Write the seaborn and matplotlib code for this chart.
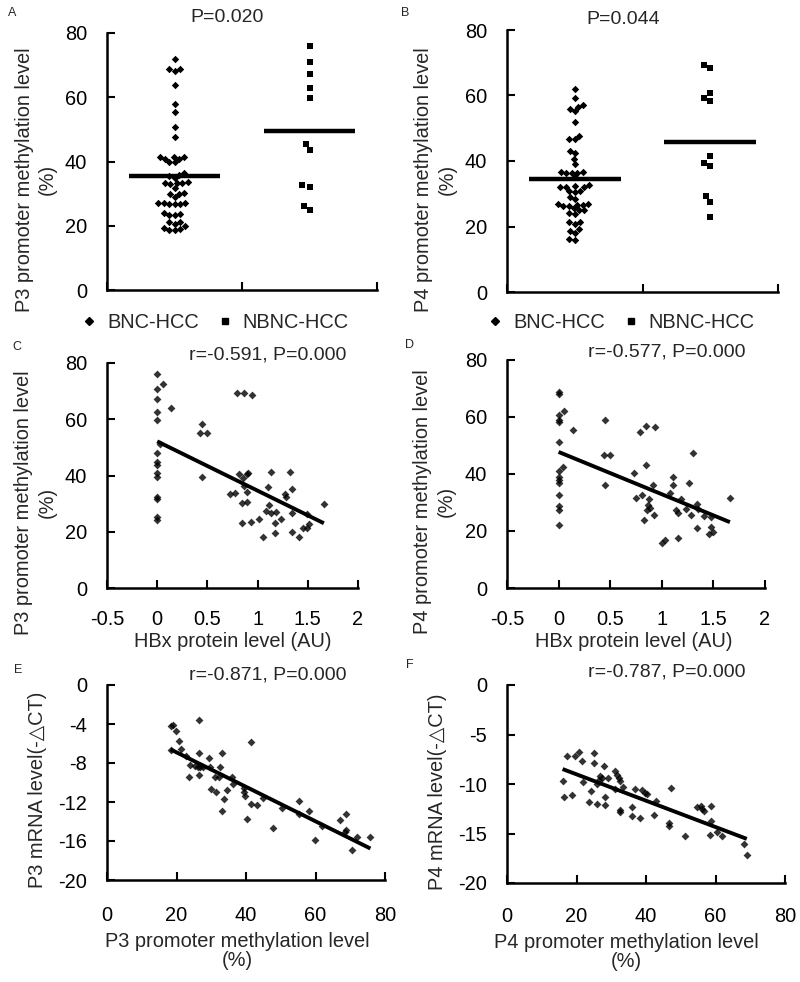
import matplotlib
matplotlib.use("Agg")
import matplotlib.pyplot as plt
import seaborn as sns
import pandas as pd
from matplotlib.lines import Line2D

# ---------------- data ----------------
groups = ["BNC-HCC", "NBNC-HCC"]

A_bnc = [72.0, 68.8, 68.3, 68.8, 63.8, 57.9, 55.3, 50.6, 47.7, 40.9, 41.4, 41.4,
         41.4, 40.7, 39.7, 39.7, 36.3, 35.9, 35.4, 34.9, 33.3, 33.6, 32.9, 33.3,
         33.3, 31.8, 30.2, 29.8, 30.0, 28.9, 26.9, 27.2, 27.2, 26.9, 27.2, 26.9,
         23.5, 24.1, 23.2, 23.8, 21.1, 20.6, 21.1, 19.9, 18.8, 19.0, 18.6, 19.2]
A_nbnc = [76.0, 70.9, 67.3, 62.8, 59.9, 45.4, 43.5, 32.6, 32.1, 26.3, 24.8]
A_means = [35.4, 49.4]

B_bnc = [61.9, 59.1, 56.6, 55.9, 57.1, 55.3, 51.8, 47.6, 46.7, 46.7, 42.5, 43.1,
         40.6, 39.0, 36.4, 36.7, 36.4, 36.7, 36.4, 35.0, 32.1, 32.4, 32.1, 32.1,
         32.6, 30.9, 30.6, 30.9, 29.1, 28.3, 27.0, 26.7, 27.0, 26.7, 26.3, 25.0,
         25.5, 25.0, 23.9, 26.3, 24.2, 21.4, 20.9, 21.4, 18.0, 18.7, 19.1, 16.3, 16.0]
B_nbnc = [69.3, 68.3, 59.3, 60.7, 58.4, 41.5, 39.3, 38.4, 29.3, 27.5, 22.8]
B_means = [34.5, 45.8]

C_x = [0, 0, 0, 0, 0, 0, 0, 0, 0, 0, 0, 0, 0, 0,
       0.056, 0.14, 0.03, 0.45, 0.43, 0.50, 0.45, 0.79, 0.865, 0.944, 0.73, 0.77,
       0.81, 0.89, 0.90, 0.855, 0.86, 0.89, 0.84, 0.89, 0.84, 0.93, 1.01, 1.05,
       1.10, 1.13, 1.11, 1.08, 1.13, 1.18, 1.17, 1.17, 1.23, 1.27, 1.28, 1.32,
       1.34, 1.34, 1.34, 1.41, 1.45, 1.49, 1.51, 1.49, 1.66]
C_y = [76.0, 70.8, 67.3, 62.6, 59.9, 47.9, 44.8, 43.6, 41.0, 39.5, 32.3, 31.7, 25.3, 24.2,
       72.5, 63.9, 51.1, 58.4, 55.2, 55.2, 39.6, 69.3, 69.3, 68.7, 33.5, 33.9,
       40.6, 40.6, 41.0, 39.2, 36.3, 34.1, 30.1, 30.7, 23.0, 23.6, 24.4, 18.3,
       36.0, 41.2, 29.5, 27.4, 26.8, 27.1, 23.0, 19.4, 24.4, 33.3, 32.5, 41.2,
       35.1, 26.8, 19.9, 18.3, 21.4, 21.2, 22.8, 26.4, 29.7]

D_x = [0, 0, 0, 0, 0, 0, 0, 0, 0, 0, 0, 0, 0, 0,
       0.054, 0.04, 0.137, 0.45, 0.44, 0.50, 0.45, 0.73, 0.75, 0.81, 0.79, 0.85,
       0.93, 0.85, 0.91, 0.88, 0.87, 0.89, 0.86, 0.92, 0.83, 1.0, 1.035, 1.08,
       1.11, 1.11, 1.14, 1.16, 1.16, 1.19, 1.23, 1.26, 1.28, 1.30, 1.34, 1.35,
       1.34, 1.41, 1.46, 1.50, 1.48, 1.48, 1.66]
D_y = [68.7, 68.1, 60.8, 59.0, 58.3, 51.3, 41.2, 39.0, 38.0, 36.9, 32.8, 28.7, 27.3, 22.1,
       62.0, 42.4, 55.3, 59.0, 46.6, 46.6, 36.0, 40.5, 31.7, 32.6, 54.8, 57.0,
       56.4, 43.1, 36.0, 31.3, 29.0, 27.9, 27.2, 25.6, 23.8, 15.9, 16.7, 33.4,
       39.0, 36.0, 27.3, 26.2, 17.7, 31.4, 27.6, 36.9, 25.6, 47.2, 29.3, 27.6,
       21.2, 25.2, 18.8, 19.6, 21.5, 24.9, 31.7]

E_x = [18.3, 19.0, 19.8, 18.3, 20.6, 21.4, 22.6, 23.6, 24.0, 25.2, 26.2, 26.4,
       26.4, 26.4, 26.7, 27.6, 29.4, 29.6, 29.9, 31.0, 31.5, 32.2, 32.4, 33.2,
       33.6, 33.2, 34.4, 36.1, 36.3, 39.3, 39.6, 39.4, 41.4, 41.3, 40.4, 43.3,
       44.9, 47.8, 50.4, 55.2, 55.2, 58.1, 59.8, 62.0, 67.0, 68.9, 68.9, 68.6,
       70.6, 72.0, 75.8]
E_y = [-4.24, -4.07, -4.67, -6.69, -5.78, -6.59, -7.30, -9.39, -8.2, -8.3, -8.4, -3.6,
       -6.96, -9.2, -8.4, -8.4, -7.5, -8.4, -10.7, -9.4, -11.0, -9.4, -8.4, -6.96,
       -11.7, -12.9, -10.8, -9.4, -10.2, -10.6, -11.4, -11.0, -5.85, -12.25, -13.7, -12.35,
       -11.6, -14.7, -12.6, -11.9, -13.2, -12.9, -15.9, -14.5, -13.8, -13.2, -14.9, -15.1,
       -16.9, -15.55, -15.55]

F_x = [16.0, 16.5, 17.2, 18.6, 19.6, 20.7, 21.5, 22.0, 23.7, 24.1, 25.1, 25.1,
       25.8, 25.8, 26.5, 26.8, 27.3, 27.9, 28.2, 28.2, 29.2, 31.1, 31.6, 32.1,
       32.4, 31.1, 32.4, 32.4, 33.4, 36.0, 36.0, 36.9, 38.2, 38.8, 39.6, 40.3,
       42.2, 43.0, 46.6, 46.6, 47.3, 51.2, 54.7, 55.7, 56.2, 56.7, 58.8, 58.6,
       58.4, 60.5, 61.8, 68.2, 69.0]
F_y = [-9.65, -11.27, -7.21, -11.1, -7.15, -6.75, -7.64, -9.82, -11.86, -10.7, -6.9, -7.9,
       -12.0, -10.05, -9.55, -9.16, -9.4, -8.23, -11.27, -12.13, -9.4, -8.66, -9.06, -9.39,
       -9.72, -10.54, -12.62, -12.85, -10.3, -12.3, -13.28, -10.54, -13.4, -10.6, -10.9, -11.0,
       -13.1, -11.7, -13.9, -14.2, -10.4, -15.3, -12.3, -12.2, -12.5, -12.7, -12.26, -13.75,
       -15.17, -14.8, -15.3, -16.06, -17.2]

meth_ticks = [0, 20, 40, 60, 80]
hbx_ticks = [-0.5, 0, 0.5, 1, 1.5, 2]
hbx_ticklabels = ["-0.5", "0", "0.5", "1", "1.5", "2"]
E_yticks = [-20, -16, -12, -8, -4, 0]
F_yticks = [-20, -15, -10, -5, 0]

stats = {"A": "P=0.020", "B": "P=0.044", "C": "r=-0.591, P=0.000",
         "D": "r=-0.577, P=0.000", "E": "r=-0.871, P=0.000", "F": "r=-0.787, P=0.000"}

# ---------------- style ----------------
sns.set_style("ticks")
plt.rcParams["font.family"] = ["Liberation Sans", "DejaVu Sans"]
plt.rcParams["axes.unicode_minus"] = False

W, H = 800, 982
fig = plt.figure(figsize=(W / 100, H / 100), dpi=100)
fig.patch.set_facecolor("white")

FS = 14.4


def add_ax(l, t, r, b):
    return fig.add_axes([l / W, 1 - b / H, (r - l) / W, (b - t) / H])


def style(ax, xpad=16, ypad=14.4):
    for s in ["top", "right"]:
        ax.spines[s].set_visible(False)
    for s in ["left", "bottom"]:
        ax.spines[s].set_linewidth(1.8)
        ax.spines[s].set_color("black")
    ax.tick_params(direction="in", length=5.5, width=1.5, labelsize=FS,
                   colors="black")
    ax.tick_params(axis="y", pad=ypad)
    ax.tick_params(axis="x", pad=xpad)
    ax.set_facecolor("white")


def swarm_panel(ax, bnc, nbnc, means, ylabel, stat, stat_xy, leg_xy):
    d1 = pd.DataFrame({"group": groups[0], "val": bnc})
    d2 = pd.DataFrame({"group": groups[1], "val": nbnc})
    sns.swarmplot(data=d1, x="group", y="val", order=groups, marker="D",
                  color="black", size=3.8, linewidth=0, ax=ax)
    sns.swarmplot(data=d2, x="group", y="val", order=groups, marker="s",
                  color="black", size=5.0, linewidth=0, ax=ax)
    for i, m in enumerate(means):
        ax.hlines(m, i - 0.34, i + 0.34, color="black", lw=3.2)
    ax.set_xlim(-0.5, 1.5)
    ax.set_xticks([-0.5, 0.5, 1.5])
    ax.set_xticklabels(["", "", ""])
    ax.set_ylim(0, 80)
    ax.set_yticks(meth_ticks)
    ax.set_yticklabels([str(t) for t in meth_ticks])
    ax.set_xlabel("")
    ax.set_ylabel(ylabel, fontsize=FS, linespacing=1.3)
    style(ax)
    ax.text(stat_xy[0], stat_xy[1], stat, transform=ax.transAxes, ha="center",
            va="center", fontsize=14)
    handles = [Line2D([], [], marker="D", color="black", ls="", markersize=3.8),
               Line2D([], [], marker="s", color="black", ls="", markersize=4.8)]
    ax.legend(handles, groups, ncol=2, frameon=False, loc="center",
              bbox_to_anchor=leg_xy, fontsize=FS, handlelength=0.8,
              handletextpad=0.5, columnspacing=0.9)


def reg_panel(ax, x, y, stat, stat_xy):
    sns.regplot(x=x, y=y, ax=ax, ci=None, truncate=True, marker="D",
                color="black",
                scatter_kws=dict(s=16, linewidths=0),
                line_kws=dict(lw=2.8, solid_capstyle="butt"))
    ax.text(stat_xy[0], stat_xy[1], stat, transform=ax.transAxes, ha="center",
            va="center", fontsize=14)


# ---------------- A ----------------
axA = add_ax(107, 33, 377, 290)
swarm_panel(axA, A_bnc, A_nbnc, A_means,
            "P3 promoter methylation level\n(%)", stats["A"],
            (0.444, 1.062), (0.40, -0.125))
axA.yaxis.set_label_coords(-0.185, 0.43)

# ---------------- B ----------------
axB = add_ax(507, 30, 778, 292)
swarm_panel(axB, B_bnc, B_nbnc, B_means,
            "P4 promoter methylation level\n(%)", stats["B"],
            (0.428, 1.04), (0.42, -0.118))
axB.yaxis.set_label_coords(-0.185, 0.43)

# ---------------- C ----------------
axC = add_ax(107, 363, 358, 588)
reg_panel(axC, C_x, C_y, stats["C"], (0.64, 1.036))
axC.set_xlim(-0.5, 2)
axC.set_xticks(hbx_ticks)
axC.set_xticklabels(hbx_ticklabels)
axC.set_ylim(0, 80)
axC.set_yticks(meth_ticks)
axC.set_yticklabels([str(t) for t in meth_ticks])
style(axC, xpad=16)
axC.set_xlabel("HBx protein level (AU)", fontsize=FS)
axC.set_ylabel("P3 promoter methylation level\n(%)", fontsize=FS, linespacing=1.3)
axC.xaxis.set_label_coords(0.5, -0.195)
axC.yaxis.set_label_coords(-0.2, 0.38)

# ---------------- D ----------------
axD = add_ax(507, 360, 765, 588)
reg_panel(axD, D_x, D_y, stats["D"], (0.62, 1.035))
axD.set_xlim(-0.5, 2)
axD.set_xticks(hbx_ticks)
axD.set_xticklabels(hbx_ticklabels)
axD.set_ylim(0, 80)
axD.set_yticks(meth_ticks)
axD.set_yticklabels([str(t) for t in meth_ticks])
style(axD, xpad=16)
axD.set_xlabel("HBx protein level (AU)", fontsize=FS)
axD.set_ylabel("P4 promoter methylation level\n(%)", fontsize=FS, linespacing=1.3)
axD.xaxis.set_label_coords(0.49, -0.195)
axD.yaxis.set_label_coords(-0.2, 0.38)

# ---------------- E ----------------
axE = add_ax(107, 685, 385, 880)
reg_panel(axE, E_x, E_y, stats["E"], (0.58, 1.05))
axE.set_xlim(0, 80)
axE.set_xticks(meth_ticks)
axE.set_xticklabels([str(t) for t in meth_ticks])
axE.set_ylim(-20, 0)
axE.set_yticks(E_yticks)
axE.set_yticklabels([str(t) for t in E_yticks])
style(axE, xpad=19)
axE.set_xlabel("P3 promoter methylation level\n(%)", fontsize=FS, linespacing=1.05)
axE.set_ylabel("P3 mRNA level(-△CT)", fontsize=FS)
axE.xaxis.set_label_coords(0.47, -0.265)
axE.yaxis.set_label_coords(-0.215, 0.46)

# ---------------- F ----------------
axF = add_ax(507, 685, 785, 883)
reg_panel(axF, F_x, F_y, stats["F"], (0.576, 1.066))
axF.set_xlim(0, 80)
axF.set_xticks(meth_ticks)
axF.set_xticklabels([str(t) for t in meth_ticks])
axF.set_ylim(-20, 0)
axF.set_yticks(F_yticks)
axF.set_yticklabels([str(t) for t in F_yticks])
style(axF, xpad=17)
axF.set_xlabel("P4 promoter methylation level\n(%)", fontsize=FS, linespacing=1.05)
axF.set_ylabel("P4 mRNA level(-△CT)", fontsize=FS)
axF.xaxis.set_label_coords(0.43, -0.25)
axF.yaxis.set_label_coords(-0.215, 0.46)

# ---------------- panel letters ----------------
letters = [("A", 12, 13), ("B", 405, 13), ("C", 17, 347),
           ("D", 410, 345), ("E", 18, 670), ("F", 410, 665)]
for lab, px, py in letters:
    fig.text(px / W, 1 - py / H, lab, fontsize=9, ha="center", va="center")

fig.savefig("out.png", dpi=100, facecolor="white")
